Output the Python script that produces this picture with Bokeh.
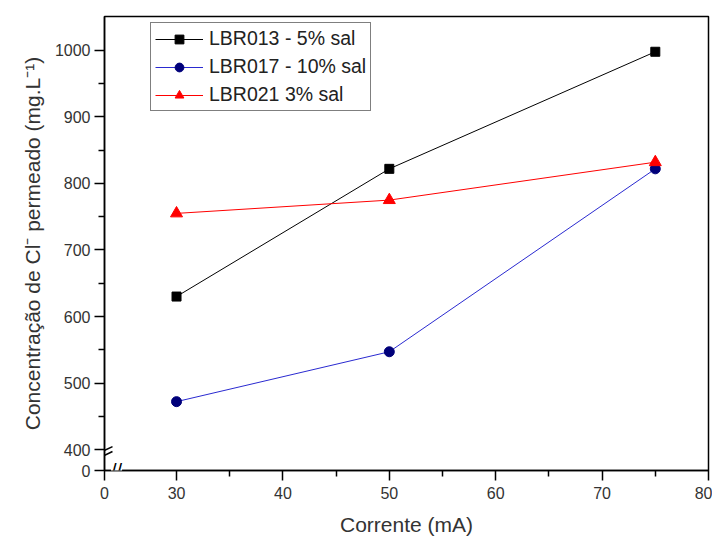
from bokeh.plotting import figure
from bokeh.models import Range1d, FixedTicker, Legend, LegendItem, Label, Arrow
from bokeh.embed import file_html
from bokeh.resources import INLINE

# data
corrente = [30, 50, 75]
lbr013 = [630, 822, 998]
lbr017 = [472, 547, 822]
lbr021 = [755, 775, 832]

names = ["LBR013 - 5% sal", "LBR017 - 10% sal", "LBR021 3% sal"]

x_ticks = [30, 40, 50, 60, 70, 80]
y_ticks = [400, 500, 600, 700, 800, 900, 1000]

# broken-axis helpers: the "0" tick sits at the left/bottom edge
x_zero_pos = 23.23
y_zero_pos = 368.5

p = figure(width=712, height=538, output_backend="svg", toolbar_location=None,
           x_range=Range1d(x_zero_pos, 80), y_range=Range1d(y_zero_pos, 1051),
           min_border_left=104, min_border_right=4, min_border_top=16, min_border_bottom=67)
p.grid.visible = False
p.background_fill_color = "white"
p.border_fill_color = "white"
p.outline_line_color = "black"
p.outline_line_width = 1.5

p.xaxis.ticker = FixedTicker(ticks=[x_zero_pos] + x_ticks, minor_ticks=[35, 45, 55, 65, 75])
p.yaxis.ticker = FixedTicker(ticks=[y_zero_pos] + y_ticks, minor_ticks=[450, 550, 650, 750, 850, 950])
p.xaxis.major_label_overrides = {x_zero_pos: "0"}
p.yaxis.major_label_overrides = {y_zero_pos: "0"}

for ax in (p.xaxis[0], p.yaxis[0]):
    ax.axis_line_width = 1.5
    ax.major_tick_line_width = 1.5
    ax.minor_tick_line_width = 1.5
    ax.major_tick_out = 10
    ax.major_tick_in = 0
    ax.minor_tick_out = 6
    ax.minor_tick_in = 0
    ax.major_label_text_font = "Liberation Sans"
    ax.major_label_text_font_size = "16px"
    ax.major_label_text_color = "#333333"
    ax.axis_label_text_font = "Liberation Sans"
    ax.axis_label_text_font_size = "21px"
    ax.axis_label_text_font_style = "normal"
    ax.axis_label_text_color = "#333333"

p.xaxis.axis_label = "Corrente (mA)"
p.yaxis.axis_label = "Concentração de Cl\u207b permeado (mg.L\u207b\u00b9)"
p.yaxis.major_label_standoff = 4
p.xaxis.major_label_standoff = 6
p.yaxis.axis_label_standoff = 8
p.xaxis.axis_label_standoff = 11

l1 = p.line(corrente, lbr013, line_color="black", line_width=1)
m1 = p.scatter(corrente, lbr013, marker="square", size=9, fill_color="black", line_color="black")
l2 = p.line(corrente, lbr017, line_color="#2a2ad0", line_width=1)
m2 = p.scatter(corrente, lbr017, marker="circle", size=10, fill_color="#00007a", line_color="#00007a")
l3 = p.line(corrente, lbr021, line_color="#ff0000", line_width=1)
m3 = p.scatter(corrente, lbr021, marker="triangle", size=12, fill_color="#ff0000", line_color="#ff0000")

legend = Legend(items=[LegendItem(label=names[0], renderers=[l1, m1]),
                       LegendItem(label=names[1], renderers=[l2, m2]),
                       LegendItem(label=names[2], renderers=[l3, m3])],
                location=(46, 359), label_text_font_size="19.5px",
                label_text_font="Liberation Sans")
legend.border_line_color = "black"
legend.border_line_width = 1.5
legend.label_text_color = "#222222"
legend.glyph_width = 48
legend.glyph_height = 22
legend.label_height = 22
legend.spacing = 5
legend.padding = 4
legend.margin = 0
legend.label_standoff = 6
p.add_layout(legend, "center")

# break marks on the y axis (two short slanted strokes)
for (xs, ys, xe, ye) in [(22.2, 391, 23.98, 404.5), (22.2, 383.5, 23.98, 397)]:
    p.add_layout(Arrow(end=None, x_start=xs, y_start=ys, x_end=xe, y_end=ye,
                       line_color="black", line_width=1.5))
# break marks on the x axis
p.add_layout(Label(x=24.36, y=y_zero_pos, text="//", text_font="Liberation Sans",
                   text_font_size="20px", text_align="center", text_baseline="middle",
                   text_color="black", background_fill_color="white"))

open("out.html", "w").write(file_html(p, INLINE))
